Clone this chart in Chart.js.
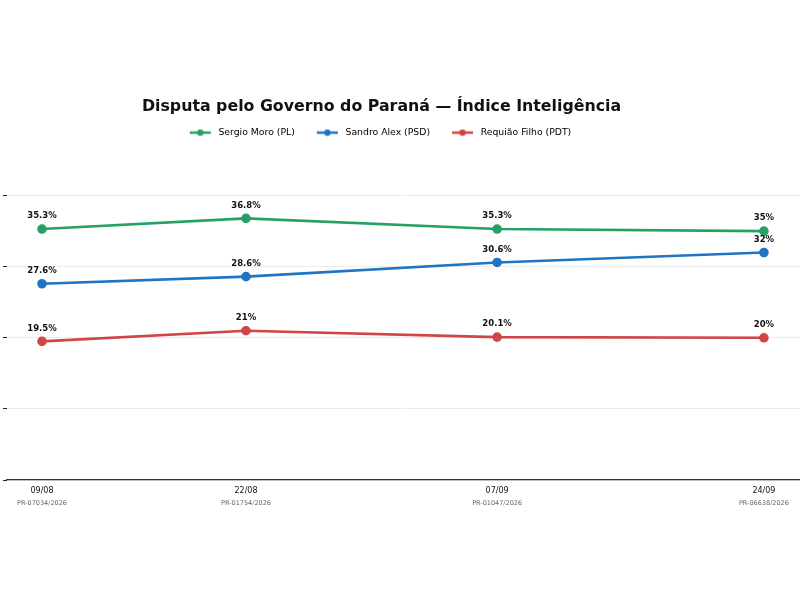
<!DOCTYPE html>
<html>
<head>
<meta charset="utf-8">
<script src="https://cdn.jsdelivr.net/npm/chart.js@4.4.1/dist/chart.umd.min.js"></script>
<style>
  html, body { margin: 0; padding: 0; background: #fff; }
  #wrap { width: 800px; height: 600px; }
</style>
</head>
<body>
<div id="wrap"><canvas id="myChart" width="800" height="600"></canvas></div>
<script>
// poll dates, days counted from the first one (09/08)
const dayOffsets = [0, 13, 29, 46];
const dateLabels = ["09/08", "22/08", "07/09", "24/09"];
const pollCodes = ["PR-07034/2026", "PR-01754/2026", "PR-01047/2026", "PR-06638/2026"];

const candidates = ["Sergio Moro (PL)", "Sandro Alex (PSD)", "Requião Filho (PDT)"];
const moroValues = [35.3, 36.8, 35.3, 35];
const alexValues = [27.6, 28.6, 30.6, 32];
const requiaoValues = [19.5, 21, 20.1, 20];
const lineColors = ["#27a063", "#1f74c4", "#d04545"];

const yTicks = [0, 10, 20, 30, 40];

const FONT = "'DejaVu Sans', sans-serif";

function toPoints(values) {
  return values.map((v, i) => ({ x: dayOffsets[i], y: v }));
}

function fmtPct(v) {
  return (Number.isInteger(v) ? v : v.toFixed(1)) + "%";
}

// line+dot marker for the legend, blank on the left to space the items
function legendMarker(color) {
  const c = document.createElement("canvas");
  c.width = 36;
  c.height = 8;
  const g = c.getContext("2d");
  g.strokeStyle = color;
  g.lineWidth = 2.5;
  g.beginPath();
  g.moveTo(12, 4);
  g.lineTo(33, 4);
  g.stroke();
  g.fillStyle = color;
  g.beginPath();
  g.arc(22.5, 4, 3.2, 0, Math.PI * 2);
  g.fill();
  return c;
}

const valueLabels = {
  id: "valueLabels",
  afterDatasetsDraw(chart) {
    const ctx = chart.ctx;
    ctx.save();
    ctx.font = "bold 8.5px " + FONT;
    ctx.fillStyle = "#111";
    ctx.textAlign = "center";
    ctx.textBaseline = "middle";
    chart.data.datasets.forEach((ds, i) => {
      chart.getDatasetMeta(i).data.forEach((pt, j) => {
        ctx.fillText(fmtPct(ds.data[j].y), pt.x, pt.y - 13);
      });
    });
    ctx.restore();
  }
};

// title and legend sit a bit left of the canvas centre
const headerShift = {
  id: "headerShift",
  afterLayout(chart) {
    if (chart.titleBlock) {
      chart.titleBlock.left -= 20;
      chart.titleBlock.right -= 20;
    }
    if (chart.legend) {
      chart.legend.left -= 27;
      chart.legend.right -= 27;
    }
  }
};

const seriesValues = [moroValues, alexValues, requiaoValues];

const ctx = document.getElementById("myChart").getContext("2d");
new Chart(ctx, {
  type: "line",
  data: {
    datasets: candidates.map((name, i) => ({
      label: name,
      data: toPoints(seriesValues[i]),
      borderColor: lineColors[i],
      backgroundColor: lineColors[i],
      borderWidth: 2.6,
      pointRadius: 3.5,
      pointHoverRadius: 3.5,
      tension: 0
    }))
  },
  options: {
    responsive: false,
    animation: false,
    layout: { autoPadding: false, padding: { top: 97, left: 3, right: 0, bottom: 88.4 } },
    plugins: {
      title: {
        display: true,
        text: "Disputa pelo Governo do Paraná — Índice Inteligência",
        color: "#111",
        font: { family: FONT, size: 15.8, weight: "bold" },
        padding: { top: 0, bottom: 2 }
      },
      legend: {
        labels: {
          color: "#222",
          font: { family: FONT, size: 9.3 },
          usePointStyle: true,
          pointStyleWidth: 36,
          boxHeight: 8,
          padding: 10,
          generateLabels(chart) {
            return chart.data.datasets.map((ds, i) => ({
              text: ds.label,
              pointStyle: legendMarker(lineColors[i]),
              fillStyle: lineColors[i],
              strokeStyle: lineColors[i],
              lineWidth: 0,
              datasetIndex: i
            }));
          }
        }
      },
      tooltip: { enabled: false }
    },
    scales: {
      x: {
        type: "linear",
        min: -2.23,
        max: 48.3,
        afterBuildTicks(scale) {
          scale.ticks = dayOffsets.map((d) => ({ value: d }));
        },
        ticks: {
          color: "#111",
          font: { family: FONT, size: 8, lineHeight: 1.0 },
          padding: 0.7,
          maxRotation: 0,
          callback(value) {
            const i = dayOffsets.indexOf(value);
            return i >= 0 ? dateLabels[i] : "";
          }
        },
        grid: {
          display: true,
          drawOnChartArea: false,
          drawTicks: true,
          tickLength: 6,
          tickColor: "rgba(0,0,0,0)"
        },
        border: { display: true, color: "#333", width: 1.3 }
      },
      x2: {
        type: "linear",
        position: "bottom",
        min: -2.23,
        max: 48.3,
        afterBuildTicks(scale) {
          scale.ticks = dayOffsets.map((d) => ({ value: d }));
        },
        ticks: {
          color: "#666",
          font: { family: FONT, size: 6.5 },
          padding: 4.2,
          maxRotation: 0,
          callback(value) {
            const i = dayOffsets.indexOf(value);
            return i >= 0 ? pollCodes[i] : "";
          }
        },
        grid: { display: false, drawTicks: false },
        border: { display: false }
      },
      y: {
        min: 0,
        max: 46.8,
        afterBuildTicks(scale) {
          scale.ticks = yTicks.map((v) => ({ value: v }));
        },
        ticks: {
          padding: 0,
          callback() { return ""; }
        },
        grid: {
          color: "#ececec",
          tickColor: "#222",
          tickLength: 4,
          lineWidth: 1
        },
        border: { display: false }
      }
    }
  },
  plugins: [valueLabels, headerShift]
});
</script>
</body>
</html>
